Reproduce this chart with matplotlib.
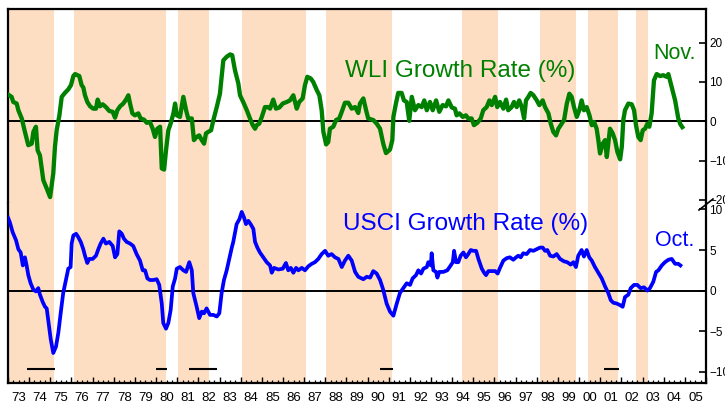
import matplotlib
matplotlib.use("Agg")
import matplotlib.pyplot as plt
from matplotlib.lines import Line2D
from matplotlib.ticker import FixedLocator
import matplotlib.transforms as mtransforms

plt.rcParams['font.family'] = ['Liberation Sans', 'DejaVu Sans']

# ---------------- data ----------------
wli_year = [1973.00, 1973.17, 1973.25, 1973.41, 1973.49, 1973.65, 1973.80, 1973.96, 1974.12, 1974.20,
            1974.32, 1974.40, 1974.51, 1974.67, 1974.83, 1974.99, 1975.14, 1975.22, 1975.30, 1975.43,
            1975.54, 1975.69, 1975.85, 1975.98, 1976.09, 1976.17, 1976.37, 1976.48, 1976.56, 1976.64,
            1976.75, 1976.88, 1977.03, 1977.16, 1977.24, 1977.35, 1977.48, 1977.63, 1977.79, 1977.95,
            1978.06, 1978.17, 1978.30, 1978.45, 1978.58, 1978.69, 1978.77, 1978.88, 1979.00, 1979.16,
            1979.27, 1979.43, 1979.56, 1979.71, 1979.84, 1979.95, 1980.06, 1980.19, 1980.27, 1980.38,
            1980.47, 1980.58, 1980.69, 1980.82, 1980.90, 1980.98, 1981.13, 1981.29, 1981.42, 1981.52,
            1981.69, 1981.79, 1981.92, 1982.04, 1982.16, 1982.27, 1982.36, 1982.47, 1982.60, 1982.71,
            1982.87, 1983.02, 1983.10, 1983.18, 1983.34, 1983.50, 1983.60, 1983.73, 1983.89, 1983.97,
            1984.12, 1984.29, 1984.44, 1984.57, 1984.68, 1984.76, 1984.88, 1985.00, 1985.15, 1985.31,
            1985.39, 1985.54, 1985.67, 1985.83, 1985.99, 1986.18, 1986.33, 1986.49, 1986.65, 1986.77,
            1986.93, 1987.04, 1987.15, 1987.31, 1987.43, 1987.60, 1987.72, 1987.83, 1987.91, 1988.04,
            1988.14, 1988.22, 1988.38, 1988.51, 1988.66, 1988.78, 1988.93, 1989.09, 1989.25, 1989.41,
            1989.56, 1989.64, 1989.80, 1989.93, 1990.03, 1990.27, 1990.43, 1990.59, 1990.74, 1990.87,
            1991.06, 1991.17, 1991.22, 1991.34, 1991.45, 1991.61, 1991.72, 1991.85, 1991.97, 1992.09,
            1992.24, 1992.40, 1992.56, 1992.68, 1992.80, 1992.95, 1993.08, 1993.24, 1993.39, 1993.55,
            1993.71, 1993.82, 1993.98, 1994.13, 1994.21, 1994.34, 1994.50, 1994.65, 1994.76, 1994.92,
            1995.03, 1995.19, 1995.35, 1995.47, 1995.63, 1995.76, 1995.87, 1996.03, 1996.13, 1996.26,
            1996.42, 1996.55, 1996.65, 1996.81, 1996.92, 1997.05, 1997.17, 1997.29, 1997.40, 1997.49,
            1997.60, 1997.71, 1997.84, 1998.00, 1998.12, 1998.28, 1998.39, 1998.55, 1998.66, 1998.78,
            1998.91, 1999.02, 1999.18, 1999.29, 1999.42, 1999.54, 1999.65, 1999.76, 1999.89, 2000.01,
            2000.12, 2000.23, 2000.36, 2000.49, 2000.60, 2000.71, 2000.83, 2000.91, 2000.99, 2001.12,
            2001.23, 2001.31, 2001.38, 2001.46, 2001.59, 2001.70, 2001.81, 2001.94, 2002.02, 2002.09,
            2002.17, 2002.33, 2002.49, 2002.60, 2002.69, 2002.80, 2002.91, 2003.01, 2003.12, 2003.23,
            2003.32, 2003.43, 2003.54, 2003.67, 2003.83, 2003.98, 2004.14, 2004.22, 2004.38, 2004.54,
            2004.69, 2004.79, 2004.88]
wli_val = [6.8, 6.2, 4.9, 4.5, 2.8, 0.7, -2.7, -6.1, -5.7, -2.7,
           -1.4, -7.4, -8.7, -15.0, -17.1, -19.3, -13.3, -6.5, -2.3, 1.5,
           6.2, 7.2, 8.1, 9.2, 11.5, 12.0, 11.5, 9.2, 8.6, 6.6,
           4.9, 3.8, 3.2, 3.2, 5.5, 3.8, 4.3, 3.6, 2.6, 2.4,
           0.9, 2.8, 3.8, 4.5, 5.5, 6.6, 4.5, 2.0, 1.5, 2.0,
           0.7, 0.4, -0.4, -0.2, -1.9, -4.0, -1.9, -1.4, -12.0, -12.3,
           -7.4, -2.3, -0.6, 2.0, 4.5, 1.5, 1.1, 6.2, 2.8, 0.7,
           0.7, -4.8, -4.0, -3.6, -4.8, -5.7, -3.1, -2.7, -2.3, 0.3,
           3.6, 7.0, 11.3, 15.5, 16.4, 17.0, 16.8, 13.0, 9.6, 6.6,
           4.9, 2.8, 0.7, -1.0, -1.9, -1.0, -0.6, 1.1, 3.6, 3.6,
           3.2, 5.5, 3.2, 3.5, 4.5, 4.9, 5.3, 6.6, 3.2, 4.9,
           5.8, 9.2, 11.3, 10.9, 10.0, 7.9, 6.6, 2.8, -2.7, -5.9,
           -5.3, -1.9, -1.4, 0.3, 0.7, 2.4, 4.7, 4.7, 3.2, 3.6,
           2.1, 4.5, 5.8, 2.8, 0.7, 0.3, -0.6, -1.9, -5.7, -8.1,
           -7.2, -4.8, 1.1, 4.5, 7.2, 7.2, 5.3, 4.9, 0.1, 6.2,
           2.8, 4.1, 3.6, 5.3, 2.8, 4.9, 2.8, 5.3, 2.4, 4.1,
           3.8, 5.3, 3.5, 3.2, 1.5, 2.0, 1.1, 1.5, 0.7, 0.7,
           -1.0, -0.4, 0.7, 2.8, 3.6, 5.3, 4.1, 6.2, 3.6, 4.9,
           3.2, 5.5, 2.8, 3.6, 4.9, 3.6, 5.3, 3.6, 0.7, 5.3,
           6.2, 7.2, 6.6, 5.3, 4.1, 5.3, 3.6, 2.0, -0.6, -2.7,
           -3.6, -1.9, -0.6, 0.3, 4.5, 7.0, 6.2, 3.6, 1.1, 2.8,
           5.3, 2.8, 3.6, 1.5, -1.0, -0.2, -1.9, -4.8, -8.2, -5.7,
           -4.8, -9.1, -5.7, -1.9, -3.1, -4.8, -7.8, -9.7, -6.5, 0.3,
           2.8, 4.5, 4.3, 2.8, -1.0, -4.0, -4.8, -2.3, -1.9, -0.6,
           -1.4, 2.0, 10.4, 12.0, 11.5, 11.7, 11.3, 12.0, 8.7, 5.3,
           0.7, -0.8, -1.5]

usci_year = [1973.00, 1973.09, 1973.22, 1973.38, 1973.49, 1973.60, 1973.70, 1973.80, 1973.88, 1973.96,
             1974.07, 1974.20, 1974.32, 1974.43, 1974.51, 1974.64, 1974.75, 1974.83, 1974.91, 1975.02,
             1975.14, 1975.27, 1975.38, 1975.49, 1975.61, 1975.74, 1975.85, 1975.96, 1976.01, 1976.09,
             1976.22, 1976.32, 1976.44, 1976.56, 1976.64, 1976.75, 1976.84, 1977.00, 1977.16, 1977.27,
             1977.38, 1977.51, 1977.63, 1977.79, 1977.95, 1978.06, 1978.17, 1978.26, 1978.38, 1978.48,
             1978.61, 1978.77, 1978.92, 1979.08, 1979.24, 1979.37, 1979.48, 1979.59, 1979.71, 1979.87,
             1980.03, 1980.15, 1980.27, 1980.34, 1980.47, 1980.58, 1980.69, 1980.79, 1980.90, 1980.98,
             1981.13, 1981.29, 1981.42, 1981.57, 1981.69, 1981.76, 1981.92, 1982.04, 1982.16, 1982.27,
             1982.39, 1982.55, 1982.71, 1982.87, 1982.99, 1983.10, 1983.21, 1983.34, 1983.46, 1983.58,
             1983.65, 1983.81, 1983.94, 1984.05, 1984.16, 1984.25, 1984.36, 1984.47, 1984.60, 1984.68,
             1984.79, 1984.91, 1985.07, 1985.23, 1985.39, 1985.47, 1985.58, 1985.78, 1985.99, 1986.14,
             1986.25, 1986.37, 1986.49, 1986.62, 1986.73, 1986.89, 1987.04, 1987.20, 1987.36, 1987.51,
             1987.67, 1987.83, 1987.99, 1988.14, 1988.30, 1988.46, 1988.62, 1988.78, 1988.93, 1989.09,
             1989.25, 1989.41, 1989.56, 1989.80, 1989.96, 1990.12, 1990.27, 1990.43, 1990.59, 1990.74,
             1990.90, 1991.06, 1991.22, 1991.38, 1991.53, 1991.69, 1991.85, 1992.01, 1992.13, 1992.29,
             1992.40, 1992.53, 1992.64, 1992.80, 1992.87, 1992.99, 1993.03, 1993.11, 1993.24, 1993.30,
             1993.39, 1993.58, 1993.77, 1993.93, 1994.03, 1994.09, 1994.18, 1994.29, 1994.40, 1994.53,
             1994.65, 1994.76, 1994.88, 1995.00, 1995.13, 1995.24, 1995.40, 1995.51, 1995.60, 1995.71,
             1995.87, 1996.03, 1996.15, 1996.26, 1996.42, 1996.58, 1996.73, 1996.89, 1997.02, 1997.13,
             1997.24, 1997.36, 1997.52, 1997.68, 1997.84, 1998.00, 1998.15, 1998.28, 1998.39, 1998.50,
             1998.63, 1998.78, 1998.94, 1999.10, 1999.29, 1999.44, 1999.60, 1999.73, 1999.85, 1999.96,
             2000.12, 2000.23, 2000.36, 2000.48, 2000.60, 2000.75, 2000.91, 2001.07, 2001.23, 2001.38,
             2001.50, 2001.62, 2001.78, 2001.94, 2002.06, 2002.17, 2002.33, 2002.44, 2002.60, 2002.75,
             2002.91, 2003.07, 2003.23, 2003.35, 2003.51, 2003.64, 2003.75, 2003.91, 2004.06, 2004.22,
             2004.38, 2004.54, 2004.69, 2004.79]
usci_val = [9.0, 8.4, 7.2, 6.2, 5.1, 4.7, 3.1, 4.1, 3.1, 1.9,
            0.9, 0.1, -0.1, 0.3, -0.5, -1.4, -2.0, -2.2, -3.8, -6.0,
            -7.7, -6.9, -5.2, -2.8, -0.3, 1.3, 2.7, 2.9, 5.8, 6.8,
            7.0, 6.6, 6.0, 5.1, 4.3, 3.4, 3.9, 3.9, 4.3, 5.1,
            5.8, 6.4, 5.8, 6.0, 5.5, 4.1, 4.5, 7.3, 7.0, 6.4,
            6.0, 5.8, 5.5, 4.5, 3.7, 2.5, 2.5, 1.5, 1.3, 1.3,
            1.4, 0.7, -1.6, -4.0, -4.7, -4.0, -2.4, 0.5, 1.5, 2.7,
            2.9, 2.5, 2.3, 3.5, 2.5, -0.3, -2.0, -3.4, -2.6, -2.8,
            -2.2, -3.0, -3.0, -3.2, -2.8, -0.3, 1.3, 2.5, 3.9, 5.3,
            6.0, 8.2, 8.8, 9.7, 9.0, 8.2, 8.6, 8.2, 7.6, 6.0,
            5.3, 4.7, 4.1, 3.5, 3.1, 2.2, 2.8, 2.6, 2.7, 3.4,
            2.5, 2.8, 2.2, 2.8, 2.5, 2.8, 2.5, 3.0, 3.3, 3.5,
            3.9, 4.5, 4.9, 4.3, 4.5, 4.1, 3.9, 2.9, 3.7, 4.3,
            3.7, 2.3, 1.7, 1.4, 1.7, 1.6, 2.4, 2.1, 1.3, 0.1,
            -1.6, -2.6, -3.1, -1.6, -0.3, 0.3, 0.9, 0.7, 1.5, 1.9,
            2.5, 2.1, 2.7, 2.9, 3.5, 3.1, 4.6, 2.5, 2.3, 1.6,
            2.3, 2.3, 2.5, 3.1, 3.5, 4.9, 3.5, 3.5, 4.3, 4.7,
            4.1, 4.5, 5.0, 4.9, 4.9, 3.9, 2.7, 2.2, 1.9, 2.4,
            2.4, 2.4, 2.1, 2.8, 3.7, 4.0, 4.1, 3.8, 4.1, 4.3,
            4.1, 4.6, 4.5, 5.0, 4.9, 5.1, 5.3, 5.3, 4.9, 5.0,
            4.3, 4.2, 4.5, 3.9, 3.6, 3.5, 3.2, 3.5, 2.9, 4.3,
            5.0, 4.2, 5.0, 4.1, 3.7, 2.9, 2.2, 1.5, 0.5, -0.3,
            -1.2, -1.5, -1.6, -1.8, -2.0, -0.8, -0.5, 0.3, 0.7, 0.7,
            0.3, 0.4, 0.0, 0.3, 1.1, 2.3, 2.5, 3.1, 3.5, 3.8,
            3.9, 3.3, 3.3, 3.1]

shade_start = [1972.9, 1976.12, 1981.04, 1984.06, 1988.04, 1994.47, 1998.15, 2000.42, 2002.69]
shade_end = [1975.17, 1980.47, 1982.50, 1987.09, 1991.16, 1996.17, 1999.86, 2001.84, 2003.26]

recession_start = [1973.9, 1980.0, 1981.55, 1990.6, 2001.2]
recession_end = [1975.2, 1980.5, 1982.9, 1991.2, 2001.9]

years = list(range(1973, 2006))
year_labels = ['%02d' % (y % 100) for y in years]

wli_ticks = [20, 10, 0, -10, -20]
usci_ticks = [10, 5, 0, -5, -10]

# ---------------- styling ----------------
SHADE = '#FDDEC2'
GREEN = '#008000'
BLUE = '#0000FF'
SPINE_W = 1.6

fig = plt.figure(figsize=(7.25, 4.03), dpi=100)
ax_top = fig.add_axes([8/725, 200/403, 698/725, 194/403])
ax_bot = fig.add_axes([8/725, 20/403, 698/725, 180/403], sharex=ax_top)

for ax in (ax_top, ax_bot):
    for s, e in zip(shade_start, shade_end):
        ax.axvspan(s, e, color=SHADE, lw=0, zorder=0)
    ax.axhline(0, color='black', lw=1.4, zorder=1)
    ax.yaxis.tick_right()
    ax.tick_params(axis='y', direction='in', length=5, width=1.2, pad=2.5,
                   labelsize=8.5, left=False, right=True, labelright=True, labelleft=False)
    for sp in ax.spines.values():
        sp.set_linewidth(SPINE_W)

ax_top.plot(wli_year, wli_val, color=GREEN, lw=3.1, solid_joinstyle='round', zorder=3)
ax_bot.plot(usci_year, usci_val, color=BLUE, lw=2.7, solid_joinstyle='round', zorder=3)

ax_top.set_xlim(1973, 2006)
ax_top.set_ylim(-20.8, 28.55)
ax_bot.set_ylim(-11.4, 10.8)
ax_top.set_yticks(wli_ticks)
ax_bot.set_yticks(usci_ticks)

ax_top.spines['bottom'].set_visible(False)
ax_bot.spines['top'].set_visible(False)
ax_top.tick_params(axis='x', which='both', bottom=False, top=False, labelbottom=False)

# year boundary ticks and quarter ticks
ax_bot.xaxis.set_major_locator(FixedLocator([y for y in years] + [2006]))
ax_bot.xaxis.set_minor_locator(FixedLocator([y + q for y in years for q in (0.25, 0.5, 0.75)]))
ax_bot.tick_params(axis='x', which='major', direction='in', length=4.5, width=1.0,
                   labelbottom=False, top=False)
ax_bot.tick_params(axis='x', which='minor', direction='in', length=2.2, width=0.9, top=False)

# year labels centred in each year
sec = ax_bot.secondary_xaxis('bottom')
sec.set_xticks([y + 0.5 for y in years], labels=year_labels)
sec.tick_params(length=0, pad=6.5, labelsize=9.5)
sec.spines['bottom'].set_visible(False)

# recession bars
trans = mtransforms.blended_transform_factory(ax_bot.transData, ax_bot.transAxes)
for s, e in zip(recession_start, recession_end):
    ax_bot.plot([s, e], [0.08, 0.08], color='black', lw=1.5, transform=trans,
                solid_capstyle='butt', zorder=4)

# labels
ax_top.text(0.4828, 0.6495, 'WLI Growth Rate (%)', transform=ax_top.transAxes,
            color=GREEN, fontsize=17.5, ha='left', va='baseline')
ax_top.text(0.924, 0.742, 'Nov.', transform=ax_top.transAxes,
            color=GREEN, fontsize=15.5, ha='left', va='baseline')
ax_bot.text(0.48, 0.85, 'USCI Growth Rate (%)', transform=ax_bot.transAxes,
            color=BLUE, fontsize=17.5, ha='left', va='baseline')
ax_bot.text(0.927, 0.761, 'Oct.', transform=ax_bot.transAxes,
            color=BLUE, fontsize=15.5, ha='left', va='baseline')

# axis break mark on right spine
fig.add_artist(Line2D([699/725, 713/725], [(403-210)/403, (403-199)/403],
                      color='black', lw=1.2))

fig.savefig('out.png', dpi=100)
